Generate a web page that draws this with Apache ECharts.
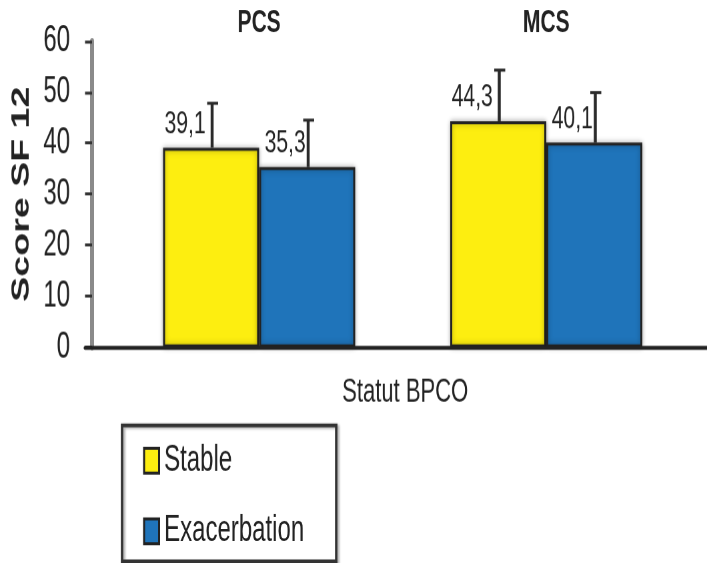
<!DOCTYPE html>
<html>
<head>
<meta charset="utf-8">
<script src="https://cdn.jsdelivr.net/npm/echarts@6/dist/echarts.min.js"></script>
<style>
html,body{margin:0;padding:0;background:#fff;overflow:hidden;width:707px;height:563px}
#c{width:707px;height:375px;transform:scaleY(1.50133);transform-origin:0 0}
</style>
</head>
<body>
<div id="c"></div>
<script>
const categories = ['PCS', 'MCS'];
const seriesNames = ['Stable', 'Exacerbation'];
const stableValues = [39.1, 44.3];
const exacValues = [35.3, 40.1];
const stableSD = [8.7, 10.0];
const exacSD = [9.2, 9.8];
const yTicks = [0, 10, 20, 30, 40, 50, 60];

const FONT = '"Liberation Sans", Arial, sans-serif';
const BAR_W = 96;
const chart = echarts.init(document.getElementById('c'), null, { devicePixelRatio: 1.5 });

function errorSeries(name, values, sds, side) {
  return {
    type: 'custom',
    name: name + ' err',
    xAxisIndex: 0, yAxisIndex: 0,
    z: 5,
    data: values.map((v, i) => [i, v, sds[i]]),
    encode: { x: 0, y: 1 },
    renderItem: function (params, api) {
      const base = api.coord([api.value(0), api.value(1)]);
      const top = api.coord([api.value(0), api.value(1) + api.value(2)]);
      const x = base[0] + side * BAR_W / 2 + 1;
      return {
        type: 'group',
        children: [
          { type: 'line', shape: { x1: x, y1: base[1], x2: x, y2: top[1] }, style: { stroke: '#2a2a2a', lineWidth: 3 } },
          { type: 'line', shape: { x1: x - 5, y1: top[1], x2: x + 6, y2: top[1] }, style: { stroke: '#2a2a2a', lineWidth: 2 } }
        ]
      };
    }
  };
}

function labelFmt(p) { return String(p.value).replace('.', ','); }

const option = {
  animation: false,
  textStyle: { fontFamily: FONT },
  title: {
    text: 'Statut BPCO',
    left: 405, top: 250, textAlign: 'center', padding: 0,
    textStyle: { fontFamily: FONT, fontSize: 22, fontWeight: 'normal', color: '#222' }
  },
  legend: {
    data: seriesNames,
    orient: 'vertical',
    left: 122, top: 283,
    padding: [11.5, 32, 8, 21],
    icon: 'rect',
    itemWidth: 15, itemHeight: 16.5, itemGap: 23,
    borderColor: '#333', borderWidth: 2.5,
    shadowColor: 'rgba(0,0,0,0.3)', shadowBlur: 2, shadowOffsetX: 2, shadowOffsetY: 1,
    textStyle: { fontFamily: FONT, fontSize: 24, color: '#222' }
  },
  grid: [
    { left: 115.5, right: 17.5, top: 27.3, bottom: 143.9, outerBoundsMode: 'none', containLabel: false },
    { left: 85, right: 0, top: 27.3, bottom: 143.9, outerBoundsMode: 'none', containLabel: false }
  ],
  xAxis: [
    {
      type: 'category', gridIndex: 0, data: categories, position: 'top',
      axisLine: { show: false }, axisTick: { show: false },
      axisLabel: { fontFamily: FONT, fontSize: 21, fontWeight: 'bold', color: '#222', margin: 1 }
    },
    {
      type: 'value', gridIndex: 1, min: 0, max: 1,
      axisLine: { show: true, lineStyle: { color: '#222', width: 2.7 } },
      axisTick: { show: false }, axisLabel: { show: false }, splitLine: { show: false },
      z: 10
    }
  ],
  yAxis: [
    {
      type: 'value', gridIndex: 0, min: 0, max: 60, interval: 10, offset: 23.5,
      name: 'Score SF 12', nameLocation: 'middle', nameGap: 58, nameMoveOverlap: false,
      nameTextStyle: { fontFamily: FONT, fontSize: 25, fontWeight: 'bold', color: '#222' },
      axisLine: { show: true, lineStyle: { color: '#8a8a8a', width: 4 } },
      axisTick: { show: true, length: 7, lineStyle: { color: '#333', width: 2 } },
      axisLabel: { fontFamily: FONT, fontSize: 24, color: '#222', margin: 22 },
      splitLine: { show: false }
    },
    { type: 'value', gridIndex: 1, show: false, min: 0, max: 1 }
  ],
  series: [
    {
      type: 'bar', name: seriesNames[0], data: stableValues,
      xAxisIndex: 0, yAxisIndex: 0,
      barWidth: BAR_W, barGap: '0%',
      itemStyle: { color: '#FDEE10', borderColor: '#222', borderWidth: 2, shadowColor: 'rgba(0,0,0,0.3)', shadowBlur: 4 },
      label: { show: true, position: 'top', distance: 5, offset: [-26, 0], formatter: labelFmt, fontFamily: FONT, fontSize: 21, color: '#222' }
    },
    {
      type: 'bar', name: seriesNames[1], data: exacValues,
      xAxisIndex: 0, yAxisIndex: 0,
      barWidth: BAR_W, barGap: '0%',
      itemStyle: { color: '#1F74BA', borderColor: '#222', borderWidth: 2, shadowColor: 'rgba(0,0,0,0.3)', shadowBlur: 4 },
      label: { show: true, position: 'top', distance: 5, offset: [-22, 0], formatter: labelFmt, fontFamily: FONT, fontSize: 21, color: '#222' }
    },
    errorSeries(seriesNames[0], stableValues, stableSD, -1),
    errorSeries(seriesNames[1], exacValues, exacSD, 1)
  ]
};
chart.setOption(option);
</script>
</body>
</html>
